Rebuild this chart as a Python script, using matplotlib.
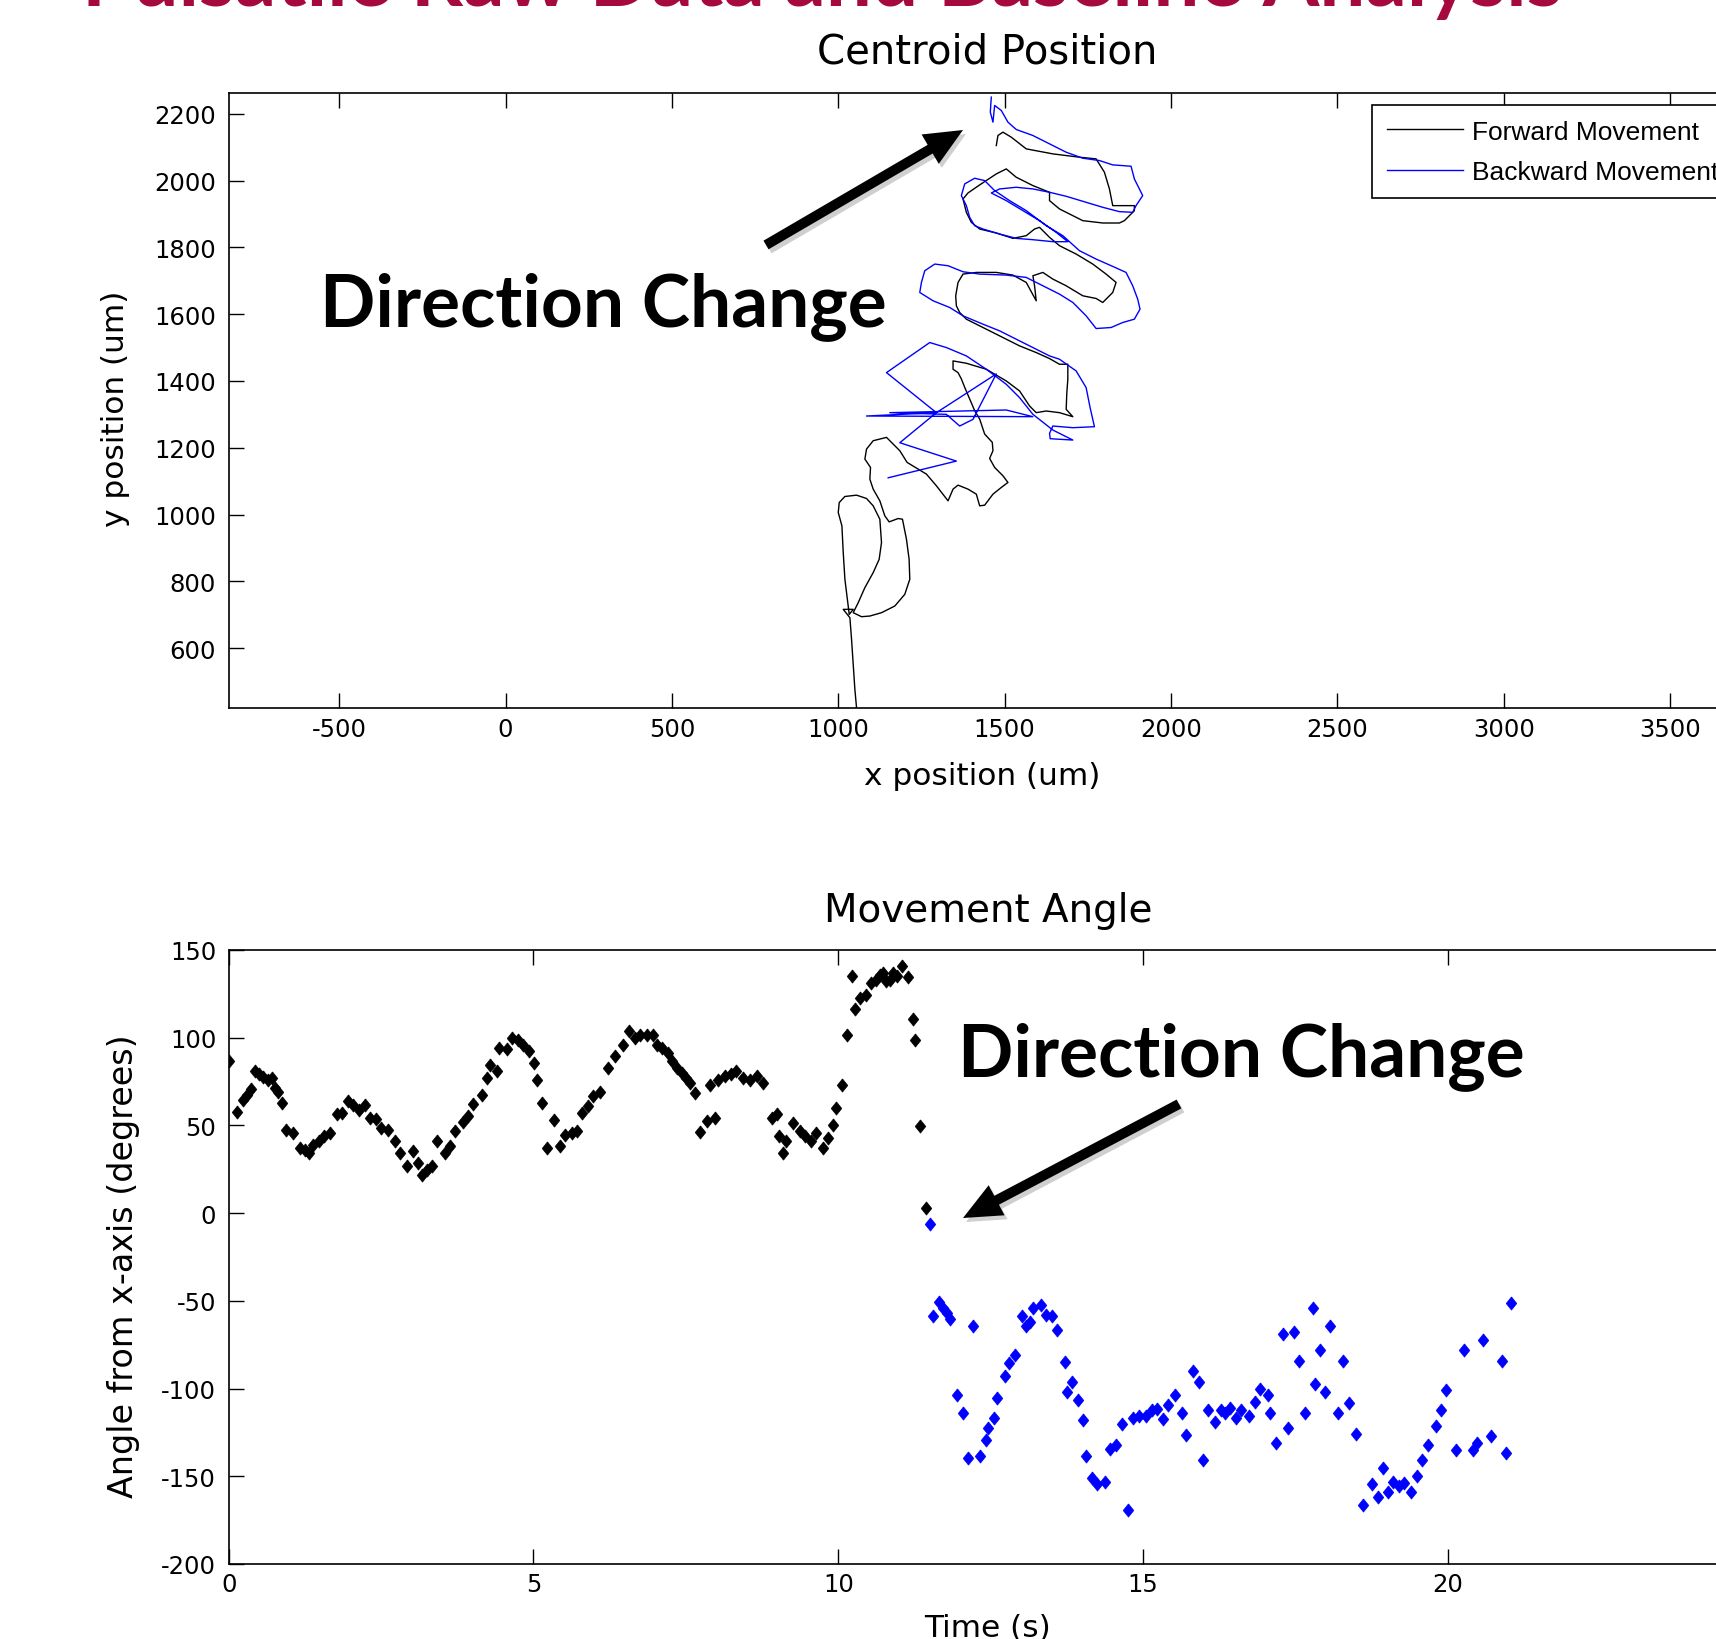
import numpy as np
import matplotlib.pyplot as plt
from matplotlib.patches import FancyArrow
from matplotlib.transforms import IdentityTransform

W, H, DPI = 1716, 1640, 100
plt.rcParams["axes.unicode_minus"] = False

# ===== centroid path (um) =====
fwd_x = [1055, 1050, 1045, 1040, 1035, 1015, 1045, 1033, 1025, 1020, 1015, 1011, 1000, 1003,
         1020, 1055, 1085, 1105, 1125, 1130, 1123, 1105, 1080, 1060, 1045, 1070, 1095, 1130,
         1170, 1200, 1215, 1213, 1205, 1193, 1180, 1153, 1140, 1125, 1105, 1095, 1097, 1080,
         1085, 1105, 1145, 1160, 1185, 1207, 1240, 1265, 1295, 1330, 1345, 1360, 1390, 1415,
         1425, 1440, 1465, 1490, 1510, 1495, 1470, 1455, 1465, 1463, 1440, 1425, 1410, 1395,
         1380, 1370, 1360, 1345, 1345, 1385, 1445, 1505, 1545, 1575, 1595, 1625, 1665, 1705,
         1685, 1687, 1690, 1690, 1665, 1635, 1595, 1545, 1505, 1465, 1425, 1385, 1365, 1355,
         1353, 1360, 1375, 1415, 1475, 1525, 1565, 1595, 1590, 1585, 1615, 1645, 1685, 1735,
         1775, 1795, 1825, 1835, 1805, 1765, 1715, 1665, 1635, 1605, 1590, 1565, 1525, 1475,
         1425, 1400, 1385, 1375, 1390, 1425, 1475, 1505, 1535, 1585, 1635, 1635, 1665, 1695,
         1735, 1795, 1845, 1860, 1890, 1890, 1825, 1815, 1800, 1775, 1725, 1645, 1565, 1520,
         1495, 1480, 1475]
fwd_y = [421, 476, 551, 626, 691, 716, 716, 701, 766, 806, 886, 966, 1006, 1036,
         1054, 1058, 1048, 1026, 986, 916, 866, 826, 781, 736, 706, 694, 696, 706,
         726, 761, 806, 866, 926, 986, 988, 978, 996, 1041, 1076, 1106, 1141, 1166,
         1196, 1221, 1231, 1216, 1191, 1156, 1136, 1121, 1086, 1041, 1076, 1088, 1076, 1061,
         1026, 1028, 1061, 1081, 1096, 1116, 1141, 1168, 1191, 1216, 1241, 1286, 1311, 1346,
         1381, 1406, 1425, 1435, 1460, 1453, 1435, 1400, 1370, 1325, 1305, 1310, 1305, 1293,
         1315, 1365, 1405, 1450, 1450, 1467, 1485, 1505, 1525, 1545, 1565, 1585, 1605, 1625,
         1655, 1695, 1720, 1725, 1725, 1717, 1695, 1640, 1685, 1715, 1725, 1705, 1685, 1655,
         1647, 1635, 1665, 1695, 1720, 1750, 1780, 1805, 1830, 1860, 1855, 1835, 1827, 1843,
         1855, 1875, 1905, 1945, 1963, 1987, 2020, 2035, 2010, 1985, 1965, 1940, 1915, 1900,
         1880, 1873, 1873, 1880, 1910, 1925, 1925, 1975, 2025, 2065, 2070, 2080, 2095, 2130,
         2145, 2135, 2105]

bwd_x = [1460, 1457, 1465, 1470, 1490, 1510, 1535, 1585, 1635, 1685, 1735, 1785, 1825, 1880,
         1890, 1905, 1915, 1895, 1885, 1845, 1795, 1745, 1685, 1635, 1585, 1535, 1485, 1460,
         1505, 1555, 1605, 1655, 1690, 1645, 1585, 1535, 1485, 1435, 1410, 1395, 1385, 1370,
         1380, 1410, 1440, 1470, 1515, 1565, 1625, 1675, 1725, 1775, 1825, 1865, 1885, 1900,
         1907, 1890, 1855, 1820, 1775, 1745, 1705, 1665, 1615, 1565, 1505, 1425, 1375, 1330,
         1290, 1260, 1250, 1245, 1285, 1335, 1375, 1435, 1485, 1535, 1585, 1635, 1665, 1715,
         1745, 1757, 1770, 1705, 1645, 1635, 1637, 1705, 1645, 1585, 1545, 1505, 1445, 1385,
         1325, 1275, 1145, 1295, 1085, 1585, 1505, 1155, 1325, 1365, 1405, 1475, 1295, 1185,
         1355, 1150]
bwd_y = [2250, 2205, 2175, 2225, 2210, 2175, 2153, 2135, 2110, 2085, 2067, 2060, 2047, 2043,
         2005, 1975, 1955, 1925, 1905, 1907, 1920, 1935, 1953, 1965, 1975, 1980, 1975, 1963,
         1940, 1910, 1880, 1845, 1817, 1817, 1823, 1827, 1840, 1855, 1865, 1890, 1925, 1955,
         1990, 2007, 2000, 1970, 1940, 1910, 1865, 1835, 1790, 1765, 1743, 1725, 1685, 1645,
         1615, 1585, 1575, 1560, 1557, 1595, 1635, 1660, 1685, 1710, 1717, 1720, 1727, 1745,
         1750, 1730, 1695, 1665, 1640, 1620, 1595, 1570, 1550, 1525, 1500, 1475, 1465, 1430,
         1380, 1320, 1263, 1260, 1265, 1243, 1227, 1223, 1253, 1300, 1350, 1390, 1435, 1475,
         1500, 1515, 1425, 1305, 1295, 1293, 1313, 1305, 1300, 1265, 1285, 1421, 1305, 1215,
         1160, 1110]

# ===== movement angle (degrees) vs time (s) =====
fwd_t = [0.0, 0.14, 0.24, 0.30, 0.37, 0.43, 0.50, 0.57, 0.64, 0.71, 0.76, 0.81, 0.88, 0.94,
         1.05, 1.17, 1.25, 1.31, 1.39, 1.48, 1.57, 1.66, 1.77, 1.86, 1.95, 2.04, 2.13, 2.23,
         2.32, 2.41, 2.50, 2.61, 2.73, 2.81, 2.92, 3.03, 3.10, 3.17, 3.25, 3.34, 3.41, 3.55,
         3.63, 3.71, 3.84, 3.93, 4.01, 4.15, 4.23, 4.29, 4.40, 4.43, 4.56, 4.65, 4.75, 4.83,
         4.93, 5.01, 5.05, 5.14, 5.22, 5.33, 5.43, 5.52, 5.63, 5.71, 5.80, 5.90, 5.98, 6.09,
         6.23, 6.34, 6.47, 6.57, 6.67, 6.75, 6.86, 6.96, 7.02, 7.10, 7.21, 7.27, 7.35, 7.43,
         7.50, 7.57, 7.65, 7.73, 7.84, 7.89, 7.98, 8.03, 8.14, 8.24, 8.33, 8.44, 8.55, 8.66,
         8.77, 8.91, 8.99, 9.02, 9.10, 9.15, 9.26, 9.37, 9.45, 9.56, 9.64, 9.75, 9.83, 9.92,
         9.96, 10.06, 10.14, 10.23, 10.27, 10.35, 10.46, 10.54, 10.62, 10.68, 10.74, 10.79,
         10.85, 10.90, 10.97, 11.04, 11.15, 11.22, 11.26, 11.34, 11.44]
fwd_ang = [86.5, 57.6, 64.6, 67.5, 70.7, 80.8, 79.4, 77.5, 76.0, 77.0, 71.3, 68.8, 62.7, 47.5,
           45.6, 37.1, 36.1, 34.2, 39.0, 41.4, 43.7, 45.6, 56.6, 57.0, 63.7, 61.8, 58.9, 61.8,
           54.2, 53.6, 48.5, 47.5, 40.9, 34.2, 27.0, 35.2, 28.5, 21.9, 24.7, 26.6, 40.9, 34.2,
           38.0, 46.6, 51.7, 55.1, 62.3, 67.5, 77.0, 84.6, 80.8, 94.1, 93.5, 99.8, 98.8, 96.0,
           92.2, 85.5, 76.0, 62.7, 37.1, 53.2, 38.0, 44.7, 45.6, 46.6, 57.0, 60.8, 66.5, 68.8,
           82.7, 89.3, 96.0, 103.6, 99.8, 101.7, 101.7, 101.7, 96.0, 94.1, 91.2, 86.5, 82.7, 79.8,
           77.0, 74.1, 68.4, 46.0, 52.3, 73.2, 54.2, 76.0, 77.9, 79.5, 80.8, 77.0, 76.0, 77.9,
           74.1, 54.2, 56.6, 43.7, 34.2, 40.9, 51.3, 46.6, 43.7, 40.9, 45.6, 37.1, 42.8, 50.4,
           59.9, 73.2, 101.7, 134.9, 116.3, 122.6, 124.5, 131.1, 133.0, 135.9, 137.0, 132.1,
           133.0, 136.8, 135.0, 141.0, 134.5, 110.6, 98.8, 49.4, 2.9]

bwd_t = [11.51, 11.56, 11.66, 11.72, 11.78, 11.83, 11.95, 12.04, 12.12, 12.21, 12.32, 12.42,
         12.46, 12.56, 12.60, 12.73, 12.80, 12.90, 13.02, 13.08, 13.14, 13.20, 13.33, 13.41,
         13.50, 13.59, 13.72, 13.75, 13.84, 13.94, 14.02, 14.07, 14.16, 14.25, 14.37, 14.45,
         14.55, 14.66, 14.76, 14.84, 14.93, 15.05, 15.14, 15.22, 15.32, 15.41, 15.52, 15.63,
         15.70, 15.82, 15.92, 15.99, 16.07, 16.18, 16.27, 16.34, 16.43, 16.52, 16.61, 16.74,
         16.83, 16.92, 17.05, 17.08, 17.18, 17.29, 17.38, 17.48, 17.56, 17.66, 17.78, 17.82,
         17.90, 17.99, 18.07, 18.20, 18.28, 18.38, 18.50, 18.60, 18.76, 18.86, 18.94, 19.02,
         19.10, 19.20, 19.28, 19.40, 19.50, 19.58, 19.67, 19.80, 19.88, 19.97, 20.14, 20.27,
         20.41, 20.47, 20.57, 20.70, 20.88, 20.96, 21.04]
bwd_ang = [-6.3, -58.6, -50.9, -54.2, -57.0, -60.4, -103.6, -114.0, -139.7, -64.6, -138.7, -129.2,
           -122.6, -116.9, -105.5, -93.1, -85.5, -80.8, -58.9, -64.6, -61.8, -54.2, -52.3, -58.0,
           -58.9, -66.5, -84.6, -101.7, -96.0, -106.4, -118.2, -138.2, -151.1, -154.3, -153.0, -134.6,
           -132.1, -120.1, -169.5, -116.9, -115.9, -115.6, -112.1, -111.7, -117.5, -109.3, -103.6, -113.7,
           -126.4, -89.7, -96.0, -141.0, -112.1, -118.8, -112.1, -114.0, -111.2, -116.9, -112.1, -115.9,
           -107.4, -100.4, -103.6, -114.0, -130.8, -68.8, -122.6, -67.5, -84.0, -114.0, -54.2, -97.3,
           -77.9, -101.7, -64.6, -114.0, -84.0, -108.0, -125.8, -166.3, -154.3, -161.9, -145.4, -158.7,
           -153.0, -155.5, -154.0, -158.7, -149.8, -141.0, -132.1, -121.6, -112.1, -100.7, -134.9, -77.9,
           -134.9, -131.1, -72.2, -127.3, -84.0, -136.5, -51.0]

BLUE = "#0000ff"
DIAMOND = [(0, 1), (0.8, 0), (0, -1), (-0.8, 0), (0, 1)]


def fx(px):
    return px / W


def fy(py):
    # py measured from the top of the picture
    return 1 - py / H


def style_axes(ax):
    for s in ax.spines.values():
        s.set_linewidth(1.2)
    ax.tick_params(direction="in", length=11, width=1.0, top=True, right=True,
                   labelsize=17.5, colors="black")
    ax.tick_params(axis="x", pad=6)
    ax.tick_params(axis="y", pad=9)


fig = plt.figure(figsize=(W / DPI, H / DPI), dpi=DPI)

# ===== top: centroid position =====
ax1 = fig.add_axes([fx(228.7), fy(709.2), fx(1736.6 - 228.7), (709.2 - 94.1) / H])
l_fwd, = ax1.plot(fwd_x, fwd_y, color="black", lw=1.0)
l_bwd, = ax1.plot(bwd_x, bwd_y, color=BLUE, lw=1.0)
ax1.set_xticks(np.arange(-500, 3501, 500))
ax1.set_yticks(np.arange(600, 2201, 200))
ax1.set_xlim(-832, 3700)
ax1.set_ylim(420, 2262)
style_axes(ax1)

leg = ax1.legend([l_fwd, l_bwd], ["Forward Movement", "Backward Movement"],
                 loc="upper left", bbox_to_anchor=(fx(1372), fy(106)),
                 bbox_transform=fig.transFigure, borderaxespad=0,
                 prop={"family": ["Liberation Sans", "DejaVu Sans"], "size": 19},
                 fancybox=False, edgecolor="black", framealpha=1,
                 borderpad=0.55, handlelength=2.9, handletextpad=0.35, labelspacing=0.62)
leg.get_frame().set_linewidth(1.2)

fig.text(fx(987), fy(53), "Centroid Position", ha="center", va="center", fontsize=29)
fig.text(fx(982), fy(777), "x position (um)", ha="center", va="center", fontsize=22.5)
fig.text(fx(115), fy(409), "y position (um)", ha="center", va="center", fontsize=22.5,
         rotation=90)

# ===== bottom: movement angle =====
ax2 = fig.add_axes([fx(228.7), fy(1565), fx(1752.7 - 228.7), (1565 - 951) / H])
ax2.plot(fwd_t, fwd_ang, linestyle="none", marker=DIAMOND, markersize=9.5,
         color="black", markeredgewidth=0.5)
ax2.plot(bwd_t, bwd_ang, linestyle="none", marker=DIAMOND, markersize=9.5,
         color=BLUE, markeredgewidth=0.5)
ax2.set_xticks(np.arange(0, 21, 5))
ax2.set_yticks(np.arange(-200, 151, 50))
ax2.set_xlim(0, 25)
ax2.set_ylim(-200, 150)
style_axes(ax2)

fig.text(fx(988), fy(911), "Movement Angle", ha="center", va="center", fontsize=28)
fig.text(fx(987), fy(1614), "Time (s)", ha="center", va="top", fontsize=22.5)
fig.text(fx(124), fy(1266), "Angle from x-axis (degrees)", ha="center", va="center",
         fontsize=24, rotation=90)

# ===== slide overlays =====
fig.text(fx(82), fy(6), "Pulsatile Raw Data and Baseline Analysis", ha="left",
         va="baseline", fontsize=58.7, fontfamily="Lato", fontweight="bold", color="#A6093D")

for x0, yb in [(320, 326), (958, 1076)]:
    fig.text(fx(x0), fy(yb), "Direction Change", ha="left", va="baseline",
             fontsize=52.5, fontfamily="Lato", fontweight="bold", color="black")

# arrows in pixel coords (tail -> tip), y from top
arrows = [((766, 246), (963, 131)), ((1179, 1105), (963, 1219))]
for (x0, y0), (x1, y1) in arrows:
    for off, col, a in [((3, -4), "#777777", 0.35), ((0, 0), "black", 1.0)]:
        arr = FancyArrow(x0 + off[0], H - y0 + off[1], x1 - x0, -(y1 - y0),
                         width=10, head_width=34, head_length=38,
                         length_includes_head=True, color=col, alpha=a, lw=0,
                         transform=IdentityTransform())
        fig.add_artist(arr)

fig.savefig("out.png", dpi=DPI)
plt.close(fig)
